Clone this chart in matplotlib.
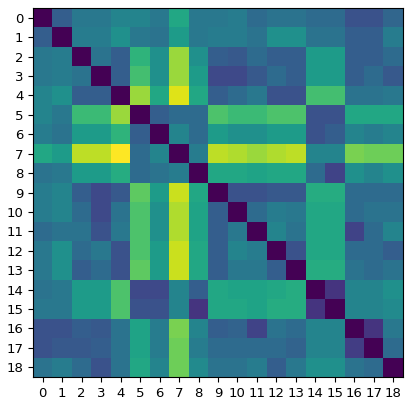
import numpy as np
import matplotlib
matplotlib.use("Agg")
import matplotlib.pyplot as plt

labels = [str(i) for i in range(19)]

row0 = [0.00, 0.30, 0.40, 0.40, 0.45, 0.45, 0.40, 0.60, 0.40, 0.40, 0.42, 0.35, 0.38, 0.38, 0.35, 0.35, 0.25, 0.25, 0.33]
row1 = [0.30, 0.00, 0.42, 0.42, 0.50, 0.40, 0.38, 0.55, 0.40, 0.42, 0.42, 0.38, 0.50, 0.50, 0.38, 0.38, 0.30, 0.30, 0.42]
row2 = [0.40, 0.42, 0.00, 0.38, 0.30, 0.65, 0.50, 0.85, 0.50, 0.30, 0.28, 0.35, 0.30, 0.30, 0.55, 0.55, 0.30, 0.30, 0.35]
row3 = [0.40, 0.42, 0.38, 0.00, 0.30, 0.70, 0.50, 0.85, 0.55, 0.22, 0.22, 0.28, 0.35, 0.30, 0.55, 0.55, 0.30, 0.35, 0.28]
row4 = [0.45, 0.50, 0.30, 0.30, 0.00, 0.85, 0.60, 0.95, 0.60, 0.30, 0.35, 0.40, 0.25, 0.25, 0.70, 0.70, 0.38, 0.38, 0.40]
row5 = [0.45, 0.40, 0.68, 0.68, 0.85, 0.00, 0.30, 0.35, 0.35, 0.72, 0.68, 0.68, 0.72, 0.72, 0.25, 0.25, 0.60, 0.60, 0.60]
row6 = [0.42, 0.38, 0.55, 0.55, 0.65, 0.30, 0.00, 0.45, 0.35, 0.55, 0.50, 0.50, 0.55, 0.55, 0.25, 0.30, 0.45, 0.42, 0.45]
row7 = [0.60, 0.55, 0.90, 0.90, 1.00, 0.35, 0.45, 0.00, 0.42, 0.90, 0.88, 0.85, 0.88, 0.90, 0.45, 0.45, 0.80, 0.78, 0.78]
row8 = [0.38, 0.40, 0.55, 0.55, 0.62, 0.35, 0.38, 0.42, 0.00, 0.60, 0.60, 0.58, 0.60, 0.60, 0.35, 0.20, 0.50, 0.45, 0.50]
row9 = [0.42, 0.45, 0.30, 0.22, 0.28, 0.75, 0.55, 0.92, 0.60, 0.00, 0.25, 0.25, 0.28, 0.28, 0.62, 0.62, 0.35, 0.35, 0.35]
row10 = [0.42, 0.45, 0.35, 0.22, 0.38, 0.72, 0.50, 0.88, 0.58, 0.30, 0.00, 0.35, 0.42, 0.40, 0.60, 0.60, 0.35, 0.38, 0.38]
row11 = [0.35, 0.38, 0.38, 0.25, 0.40, 0.72, 0.50, 0.88, 0.58, 0.30, 0.40, 0.00, 0.45, 0.38, 0.60, 0.60, 0.20, 0.35, 0.45]
row12 = [0.40, 0.50, 0.35, 0.40, 0.25, 0.72, 0.55, 0.92, 0.60, 0.30, 0.45, 0.42, 0.00, 0.25, 0.60, 0.60, 0.35, 0.35, 0.30]
row13 = [0.40, 0.50, 0.30, 0.35, 0.25, 0.75, 0.55, 0.92, 0.60, 0.30, 0.40, 0.40, 0.30, 0.00, 0.62, 0.62, 0.38, 0.35, 0.38]
row14 = [0.38, 0.40, 0.55, 0.55, 0.72, 0.22, 0.22, 0.45, 0.30, 0.60, 0.58, 0.58, 0.60, 0.62, 0.00, 0.15, 0.45, 0.45, 0.50]
row15 = [0.40, 0.40, 0.55, 0.55, 0.72, 0.25, 0.25, 0.45, 0.15, 0.60, 0.60, 0.58, 0.62, 0.62, 0.15, 0.00, 0.45, 0.45, 0.48]
row16 = [0.25, 0.25, 0.30, 0.28, 0.38, 0.58, 0.42, 0.80, 0.45, 0.30, 0.32, 0.20, 0.38, 0.35, 0.45, 0.45, 0.00, 0.15, 0.40]
row17 = [0.25, 0.28, 0.28, 0.30, 0.38, 0.58, 0.42, 0.78, 0.42, 0.35, 0.35, 0.35, 0.35, 0.32, 0.45, 0.45, 0.18, 0.00, 0.35]
row18 = [0.38, 0.42, 0.35, 0.25, 0.38, 0.60, 0.45, 0.78, 0.48, 0.38, 0.38, 0.42, 0.30, 0.40, 0.50, 0.50, 0.38, 0.35, 0.00]

rows = [row0, row1, row2, row3, row4, row5, row6, row7, row8, row9,
        row10, row11, row12, row13, row14, row15, row16, row17, row18]
matrix = np.array(rows)

fig = plt.figure(figsize=(4.17, 4.05), dpi=100)
ax = fig.add_axes([33/417, 28/405, 370/417, 369/405])
ax.imshow(matrix, cmap="viridis", vmin=0, vmax=1, aspect="auto", interpolation="nearest")
ax.set_xticks(range(len(labels)))
ax.set_xticklabels(labels, fontsize=9.5)
ax.set_yticks(range(len(labels)))
ax.set_yticklabels(labels, fontsize=9.5)
fig.savefig("out.png", dpi=100)
